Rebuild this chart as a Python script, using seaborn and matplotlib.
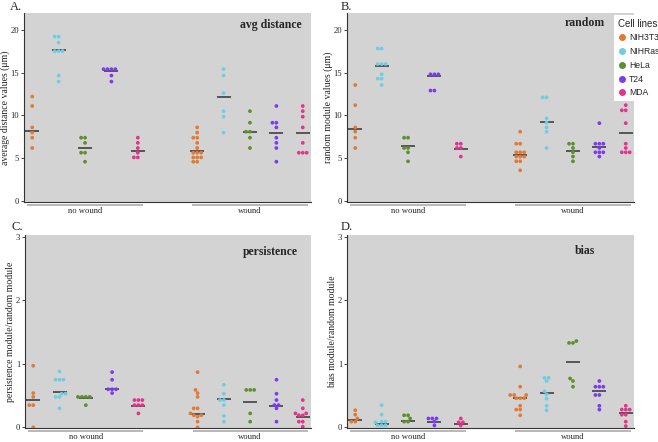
import matplotlib
matplotlib.use("Agg")
import pandas as pd
import matplotlib.pyplot as plt
import matplotlib.transforms as mtransforms
from matplotlib.lines import Line2D
import seaborn as sns

cells = ["NIH3T3", "NIHRas", "HeLa", "T24", "MDA"]
groups = ["no wound", "wound"]
colors = ["#E07A35", "#6FCDE3", "#5E8F2E", "#7A3CF0", "#E2358A"]
line_color = "#333333"

# avg distance (um)
avg_nowound = [
    [12.2, 11.1, 8.6, 8.0, 7.4, 6.2],
    [19.2, 19.2, 18.5, 17.5, 17.5, 17.5, 14.65, 13.95],
    [7.4, 7.4, 6.8, 5.65, 5.65, 4.6],
    [15.4, 15.4, 15.4, 15.4, 14.65, 13.95],
    [7.4, 6.8, 6.2, 5.65, 5.1, 5.1],
]
avg_wound = [
    [8.6, 8.0, 7.4, 7.4, 6.8, 6.2, 5.65, 5.65, 5.65, 5.1, 5.1, 5.1, 4.6, 4.6],
    [15.4, 14.65, 12.6, 10.5, 9.85, 8.0],
    [10.5, 9.15, 8.1, 8.1, 7.4, 6.2],
    [11.1, 9.15, 9.15, 8.6, 7.4, 6.8, 6.2, 4.6],
    [11.1, 10.5, 9.85, 8.6, 6.8, 5.65, 5.65, 5.65],
]
avg_center_nowound = [8.2, 17.6, 6.2, 15.2, 5.85]
avg_center_wound = [5.8, 12.2, 8.1, 8.0, 7.9]

# random module (um)
rnd_nowound = [
    [13.55, 11.2, 8.6, 8.1, 7.4, 6.2],
    [17.8, 17.8, 16.0, 16.0, 16.0, 14.8, 14.3, 14.3, 13.55],
    [7.4, 7.4, 6.2, 6.2, 5.7, 4.65],
    [14.8, 14.8, 14.8, 12.9, 12.9],
    [6.7, 6.7, 6.2, 6.2, 5.2],
]
rnd_wound = [
    [8.1, 6.7, 6.7, 5.7, 5.7, 5.7, 5.2, 5.2, 5.2, 4.65, 4.65, 3.6],
    [12.1, 12.1, 9.65, 9.15, 8.6, 8.1, 6.2],
    [6.7, 6.7, 6.2, 5.7, 5.2, 4.65],
    [9.1, 6.7, 6.7, 6.7, 6.2, 5.7, 5.7, 5.7, 5.2],
    [11.2, 10.6, 10.6, 9.1, 6.7, 6.2, 5.7, 5.7, 5.7],
]
rnd_center_nowound = [8.45, 15.8, 6.4, 14.6, 6.1]
rnd_center_wound = [5.35, 9.2, 5.8, 6.3, 7.9]

# persistence / random
per_nowound = [
    [0.97, 0.54, 0.48, 0.35, 0.35, 0.0],
    [0.88, 0.75, 0.75, 0.75, 0.53, 0.53, 0.48, 0.48, 0.30],
    [0.48, 0.48, 0.48, 0.48, 0.35],
    [0.87, 0.75, 0.60, 0.60, 0.60, 0.54],
    [0.43, 0.43, 0.43, 0.35, 0.35, 0.35, 0.22],
]
per_wound = [
    [0.87, 0.59, 0.54, 0.48, 0.30, 0.30, 0.22, 0.19, 0.19, 0.17, 0.09, 0.0],
    [0.67, 0.53, 0.43, 0.43, 0.35, 0.18, 0.09],
    [0.59, 0.59, 0.59, 0.22, 0.09],
    [0.75, 0.53, 0.43, 0.35, 0.35, 0.30, 0.09],
    [0.43, 0.30, 0.22, 0.22, 0.19, 0.19, 0.09, 0.09, 0.01],
]
per_center_nowound = [0.43, 0.56, 0.47, 0.61, 0.34]
per_center_wound = [0.21, 0.44, 0.40, 0.33, 0.16]

# bias / random
bias_nowound = [
    [0.27, 0.20, 0.14, 0.09, 0.09],
    [0.35, 0.20, 0.09, 0.09, 0.08, 0.03, 0.03, 0.03],
    [0.19, 0.19, 0.14, 0.09, 0.09],
    [0.14, 0.14, 0.14, 0.09, 0.03],
    [0.14, 0.08, 0.08, 0.03],
]
bias_wound = [
    [0.96, 0.64, 0.51, 0.51, 0.51, 0.46, 0.46, 0.46, 0.34, 0.28, 0.28, 0.19],
    [0.78, 0.78, 0.73, 0.57, 0.52, 0.45, 0.34, 0.27],
    [1.36, 1.33, 1.33, 0.77, 0.73, 0.64],
    [0.73, 0.64, 0.64, 0.64, 0.51, 0.51, 0.34, 0.28],
    [0.34, 0.28, 0.28, 0.28, 0.20, 0.20, 0.09, 0.02],
]
bias_center_nowound = [0.12, 0.06, 0.10, 0.09, 0.05]
bias_center_wound = [0.46, 0.535, 1.03, 0.58, 0.22]


def to_frame(nowound, wound):
    rows = []
    for grp, per_cell in zip(groups, [nowound, wound]):
        for cell, vals in zip(cells, per_cell):
            vals = vals if isinstance(vals, list) else [vals]
            for v in vals:
                rows.append((grp, cell, v))
    return pd.DataFrame(rows, columns=["group", "cell", "value"])


def draw_panel(ax, dots, centers, ylabel, title, title_xy, ylim, yticks):
    sns.swarmplot(data=dots, x="group", y="value", hue="cell", order=groups,
                  hue_order=cells, palette=colors, dodge=True, size=2.7,
                  linewidth=0, legend=False, ax=ax)
    sns.pointplot(data=centers, x="group", y="value", hue="cell", order=groups,
                  hue_order=cells, palette=[line_color] * 5, dodge=0.64,
                  markers="_", markersize=10, markeredgewidth=1.1,
                  linestyle="none", errorbar=None, legend=False, ax=ax)
    ax.set_facecolor("#D3D3D3")
    ax.set_xlim(-0.37, 1.37)
    ax.set_ylim(*ylim)
    ax.set_yticks(yticks)
    ax.set_xticks([0, 1])
    ax.set_xticklabels(groups)
    ax.tick_params(axis="x", length=0, pad=3.5, labelsize=6.2)
    ax.tick_params(axis="y", length=2, width=0.6, pad=1.5, labelsize=6.2)
    ax.set_xlabel("")
    ax.set_ylabel(ylabel, fontsize=7, labelpad=0.5)
    for side in ["top", "right"]:
        ax.spines[side].set_visible(False)
    for side in ["left", "bottom"]:
        ax.spines[side].set_color("#333333")
        ax.spines[side].set_linewidth(0.8)
    ax.text(title_xy[0], title_xy[1], title, transform=ax.transAxes,
            ha="right", va="center", fontweight="bold", fontsize=8.5)
    trans = mtransforms.blended_transform_factory(ax.transData, ax.transAxes)
    for i in range(len(groups)):
        ax.plot([i - 0.35, i + 0.35], [-0.018, -0.018], transform=trans,
                color="#B8B8B8", lw=1.4, clip_on=False, solid_capstyle="butt")


sns.set_theme(style="ticks")
plt.rcParams["font.family"] = ["Liberation Serif", "DejaVu Serif"]

fig = plt.figure(figsize=(6.58, 4.42), dpi=100)
W, H = 658, 442


def add_axes(left, top, right, bottom):
    return fig.add_axes([left / W, 1 - bottom / H, (right - left) / W, (bottom - top) / H])


ax_a = add_axes(24, 13, 311, 202)
ax_b = add_axes(347, 13, 634, 202)
ax_c = add_axes(25, 235, 311, 428)
ax_d = add_axes(347, 235, 634, 428)

draw_panel(ax_a, to_frame(avg_nowound, avg_wound),
           to_frame(avg_center_nowound, avg_center_wound),
           "average distance values (μm)", "avg distance", (0.968, 0.937),
           (-0.1, 21.95), [0, 5, 10, 15, 20])
draw_panel(ax_b, to_frame(rnd_nowound, rnd_wound),
           to_frame(rnd_center_nowound, rnd_center_wound),
           "random module values (μm)", "random", (0.899, 0.947),
           (-0.1, 21.95), [0, 5, 10, 15, 20])
draw_panel(ax_c, to_frame(per_nowound, per_wound),
           to_frame(per_center_nowound, per_center_wound),
           "persistence module/random module", "persistence", (0.955, 0.913),
           (-0.01, 3.03), [0, 1, 2, 3])
draw_panel(ax_d, to_frame(bias_nowound, bias_wound),
           to_frame(bias_center_nowound, bias_center_wound),
           "bias module/random module", "bias", (0.864, 0.917),
           (-0.01, 3.03), [0, 1, 2, 3])

for label, x, y in [("A.", 10, 1), ("B.", 341, 1), ("C.", 11, 221), ("D.", 341, 221)]:
    fig.text(x / W, 1 - y / H, label, ha="left", va="top", fontsize=9)

handles = [Line2D([], [], marker="o", ls="", color=c, markersize=4) for c in colors]
leg = ax_b.legend(handles, cells, title="Cell lines", loc="upper left",
                  bbox_to_anchor=(610 / W, 1 - 11 / H), bbox_transform=fig.transFigure,
                  frameon=True, fancybox=False, edgecolor="none", facecolor="white",
                  framealpha=1, prop={"family": "Liberation Sans", "size": 6.2},
                  title_fontproperties={"family": "Liberation Sans", "size": 7},
                  handletextpad=0.3, labelspacing=0.55, borderpad=0.4,
                  handlelength=1.0, alignment="left")

fig.savefig("out.png", dpi=100)
